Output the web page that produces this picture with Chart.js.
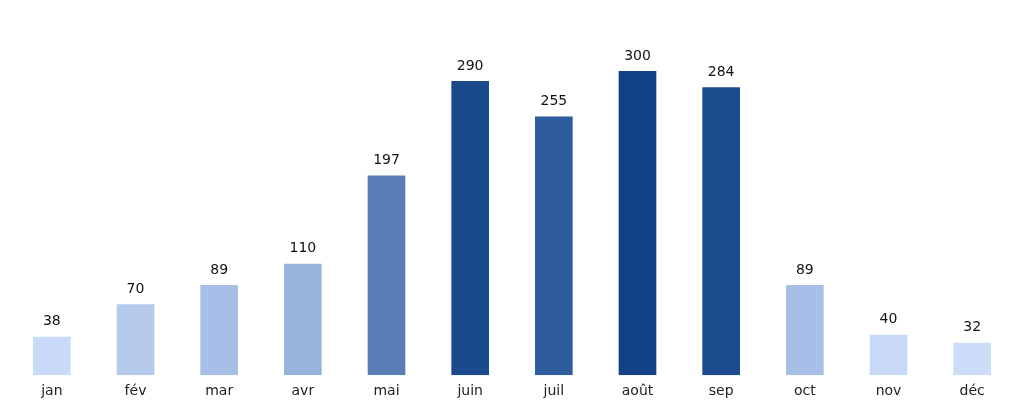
<!DOCTYPE html>
<html><head><meta charset="utf-8">
<script src="https://cdn.jsdelivr.net/npm/chart.js@4"></script>
<style>html,body{margin:0;padding:0;background:#fff}#w{width:1024px;height:404px}</style>
</head><body><div id="w"><canvas id="c"></canvas></div>
<script>
const months = ["jan","fév","mar","avr","mai","juin","juil","août","sep","oct","nov","déc"];
const values = [38,70,89,110,197,290,255,300,284,89,40,32];
const colors = ["#c9daf8","#b4c9ec","#a7bfe6","#97b2dd","#5a7db5","#1a4a8c","#2f5c9c","#134185","#1c4c8e","#a7bfe6","#c7d9f7","#cddcf9"];
const labelPlugin = {
  id:'vals',
  afterDatasetsDraw(chart){
    const ctx=chart.ctx; const meta=chart.getDatasetMeta(0);
    ctx.save(); ctx.font='14px "DejaVu Sans"'; ctx.fillStyle='#111'; ctx.textAlign='center'; ctx.textBaseline='bottom';
    meta.data.forEach((b,i)=>ctx.fillText(String(values[i]), b.x, b.y-8));
    ctx.restore();
  }
};
new Chart(document.getElementById('c'),{
  type:'bar',
  data:{labels:months,datasets:[{data:values,backgroundColor:colors,barPercentage:0.9,categoryPercentage:0.5}]},
  options:{responsive:true,maintainAspectRatio:false,animation:false,
    layout:{padding:{left:10,right:10,top:0,bottom:4}},
    plugins:{legend:{display:false},tooltip:{enabled:false}},
    scales:{
      x:{grid:{display:false},border:{display:false},ticks:{color:'#222',font:{family:'DejaVu Sans',size:14},padding:0}},
      y:{display:false,min:0,max:370}
    }},
  plugins:[labelPlugin]
});
</script></body></html>
